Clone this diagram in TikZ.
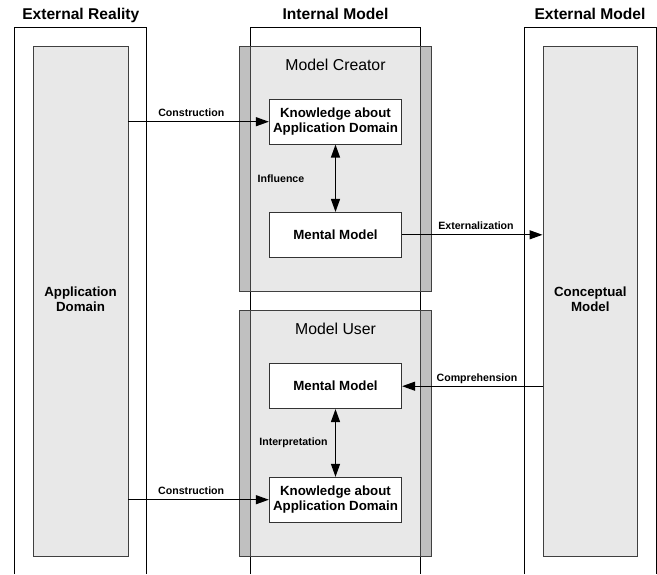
\documentclass[tikz,border=0pt]{standalone}
\usepackage{fontspec}
\setmainfont{Liberation Sans}
\usepackage{tikz}
\usetikzlibrary{arrows.meta}
\definecolor{boxgray}{RGB}{232,232,232}
\definecolor{stripgray}{RGB}{192,192,192}

\begin{document}
\begin{tikzpicture}[
      x=1pt, y=-1pt,
      frame/.style={draw=black, line width=0.8pt},
      areabox/.style={
        draw=black!75, fill=boxgray, line width=0.9pt,
        inner sep=0pt, align=center,
        font=\fontsize{13.3}{15}\selectfont\bfseries
      },
      strip/.style={draw=black!75, fill=stripgray, line width=0.9pt},
      whitebox/.style={
        draw=black!80, fill=white, line width=0.9pt, align=center,
        inner sep=0pt, minimum width=132.4pt, minimum height=44.8pt,
        font=\fontsize{13.3}{15}\selectfont\bfseries
      },
      head/.style={font=\fontsize{15.6}{18}\selectfont\bfseries, anchor=base},
      ttl/.style={font=\fontsize{15.8}{18}\selectfont, anchor=base},
      lbl/.style={font=\fontsize{10.6}{12}\selectfont\bfseries, anchor=base},
      conn/.style={line width=1.3pt, -{Triangle[length=13pt, width=9pt]}},
      bothconn/.style={line width=1.3pt,
        {Triangle[length=13pt, width=9pt]}-{Triangle[length=13pt, width=9pt]}}
    ]
      \useasboundingbox (0,0) rectangle (657,574);

      \foreach \xl/\xr in {14/146.5,250.3/420.7,524/656} {
        \draw[frame] (\xl,574) |- (\xr,27) -- (\xr,574);
      }
      \node[head] (hreal) at (80.8,19) {External Reality};
      \node[head] (hinternal) at (335.5,19) {Internal Model};
      \node[head] (hexternal) at (590,19) {External Model};

      \node[areabox, minimum width=95pt, minimum height=510pt]
        (appdom) at (80.5,301) {};
      \node[areabox, minimum width=94.7pt, minimum height=510pt]
        (concept) at (590.3,301) {};
      \node[areabox, draw=none, fill=none] (tappdom) at (80.5,299) {Application\\Domain};
      \node[areabox, draw=none, fill=none] (tconcept) at (590.3,299) {Conceptual\\Model};

      \node[areabox, minimum width=192.5pt, minimum height=245.7pt]
        (creator) at (335.25,168.85) {};
      \node[areabox, minimum width=192.5pt, minimum height=245.3pt]
        (user) at (335.25,433.35) {};
      \foreach \yt/\yb in {46/291.7,310.7/556} {
        \draw[strip] (239,\yt) rectangle (250.3,\yb);
        \draw[strip] (420.7,\yt) rectangle (431.5,\yb);
      }
      \node[ttl] (tcreator) at (335.5,70) {Model Creator};
      \node[ttl] (tuser) at (335.5,334) {Model User};

      \node[whitebox] (know1) at (335.5,121.7) {Knowledge about\\Application Domain};
      \node[whitebox] (ment1) at (335.5,234.8) {Mental Model};
      \node[whitebox] (ment2) at (335.5,386.2) {Mental Model};
      \node[whitebox] (know2) at (335.5,499.7) {Knowledge about\\Application Domain};

      \draw[conn] (appdom.east |- know1.west) -- (know1.west);
      \draw[bothconn] (know1.south) -- (ment1.north);
      \draw[conn] (ment1.east) -- (ment1.east -| concept.west);
      \draw[conn] (concept.west |- ment2.east) -- (ment2.east);
      \draw[bothconn] (ment2.south) -- (know2.north);
      \draw[conn] (appdom.east |- know2.west) -- (know2.west);

      \node[lbl] (lconstr1) at (191.3,116.5) {Construction};
      \node[lbl] (linfluence) at (281,182) {Influence};
      \node[lbl] (lextern) at (476,229.5) {Externalization};
      \node[lbl] (lcompre) at (477,381) {Comprehension};
      \node[lbl] (linterp) at (293.5,445) {Interpretation};
      \node[lbl] (lconstr2) at (191.2,494.7) {Construction};
    \end{tikzpicture}
\end{document}
